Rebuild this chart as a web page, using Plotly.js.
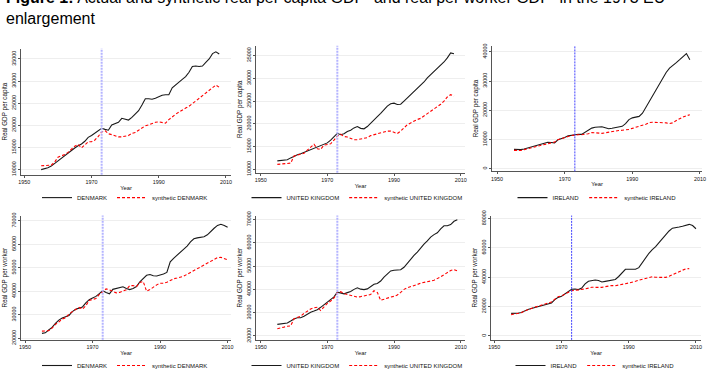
<!DOCTYPE html>
<html>
<head>
<meta charset="utf-8">
<script src="https://cdn.plot.ly/plotly-3.0.1.min.js"></script>
<style>
  html, body { margin: 0; padding: 0; background: #ffffff; }
  #chart { width: 722px; height: 380px; }
</style>
</head>
<body>
<div id="chart"></div>
<script>
// ---------- DATA ----------
const years = [1955,1956,1957,1958,1959,1960,1961,1962,1963,1964,1965,1966,1967,1968,1969,1970,
  1971,1972,1973,1974,1975,1976,1977,1978,1979,1980,1981,1982,1983,1984,1985,1986,1987,1988,1989,
  1990,1991,1992,1993,1994,1995,1996,1997,1998,1999,2000,2001,2002,2003,2004,2005,2006,2007,2008,2009,2010];
const treatYear = 1973;
const xTicks = [1950, 1970, 1990, 2010];

// Real GDP per capita
const denmarkPC = [10000,10200,10450,10800,11400,12100,12700,13300,13700,14300,
  14900,15400,15800,16400,17300,17700,18200,18700,19350,19100,
  18900,20100,20400,20700,21600,21400,21200,21800,22500,23300,
  24600,26000,26000,25900,26100,26400,26800,26900,26900,28500,
  29200,29800,30400,31000,32000,33300,33400,33300,33400,34200,
  35000,36200,36600,36100];
const synthDenmarkPC = [10880,10900,11050,11000,11700,12800,13100,13400,13900,14700,
  15300,15700,14900,15600,16300,16300,16700,17500,18500,18800,
  18100,17900,17600,17400,17400,17500,17700,18200,18400,18900,
  19400,19900,20100,20400,20700,20800,20600,20500,21300,22000,
  22500,23000,23500,23900,24300,24900,25500,26200,26800,27500,
  28000,28600,29100,28600];
const ukPC = [11850,11900,11950,12100,12500,12900,13200,13400,13700,14100,
  14450,14700,14900,15200,15500,15800,16400,17100,17900,17600,
  17800,18300,18600,19100,19400,19000,18900,19400,20200,20800,
  21600,22300,23100,23900,24400,24550,24250,24300,25000,25700,
  26300,27000,27700,28400,29200,30100,30800,31400,32100,32900,
  33600,34500,35600,35400];
const synthUkPC = [11070,11100,11250,11280,11350,12900,13100,13300,13500,14200,
  14800,15500,14500,14400,15300,15500,15600,16400,17300,17700,
  17200,17100,16800,16500,16500,16600,16800,16950,17400,17600,
  17800,18000,18300,18400,18400,18100,17850,18400,19200,19800,
  20200,20600,20950,21200,21700,22200,22700,23200,23800,24300,
  25000,25900,26400,26100];
const irelandPC = [6630,6530,6560,6750,7050,7400,7800,8100,8400,8700,
  9050,9000,8850,9900,10200,10700,11250,11450,11800,11820,
  11750,12400,13300,13900,14200,14360,14360,14030,13700,13880,
  14100,14300,14500,15400,16800,17400,17600,17900,19000,21000,
  23300,25000,26800,29200,31200,32900,34400,35200,36300,37300,
  38500,39400,37300];
const synthIrelandPC = [6300,6220,6250,6550,6850,7150,7450,7700,7900,8200,
  8500,8700,9150,9900,10350,10700,11050,11350,11580,11650,
  11650,11750,12000,12380,12250,12100,12100,12300,12550,12800,
  12900,13100,13150,13200,13450,13800,14250,14650,14900,15200,
  15800,15900,15910,15910,15850,15700,15450,15700,16500,17200,
  17700,18150,18450];

// Real GDP per worker
const denmarkPW = [22070,22300,23500,24600,26300,27700,28600,29200,29700,31300,
  32300,32800,33300,35000,36400,37100,37800,39000,40200,39500,
  38900,40800,41100,41300,41900,41200,40700,41200,42000,44000,
  45400,46800,47100,46600,46500,46800,47300,48000,52500,54000,
  55300,56800,57900,59200,61000,62300,62700,62900,63200,64000,
  65500,66800,68000,68500,68000,67200];
const synthDenmarkPW = [23030,23030,23200,24300,25900,26900,28200,28700,30300,31300,
  32100,33100,32400,33800,36100,36500,36900,38600,40000,41000,
  40600,40000,39300,39500,39900,40600,42400,42400,42000,43700,
  44100,40000,40700,41800,42700,43400,43400,43800,44700,45300,
  45600,45900,46400,47200,48000,48900,49600,50500,51400,52200,
  52900,53600,54300,54400,54000,53400];
const ukPW = [25000,25100,25300,25600,26400,27300,27800,27800,28500,29500,
  30200,30700,31300,32300,33400,34300,35300,36800,38800,38600,
  38100,38600,39100,40000,40700,40100,39900,40200,41400,42200,
  42500,43600,45300,46700,47900,48200,48200,48400,49500,51300,
  53100,54600,56000,57800,59400,60800,62400,63500,64300,66000,
  67300,67300,67800,69200,69900];
const synthUkPW = [23100,23300,23800,24200,24300,27400,28100,28500,29700,30700,
  31600,32100,32300,30900,32400,34000,35000,36300,38500,39000,
  38200,37800,37300,36800,36700,36900,37200,37400,37800,39400,
  38700,35300,35800,36500,36700,37000,37600,38700,40000,40700,
  41100,41800,42100,42700,43100,43400,43600,43900,44500,45400,
  46300,47300,48100,48500,47900];
const irelandPW = [15400,15430,15500,16000,17200,18000,18700,19300,19900,20600,
  21200,21700,22500,24800,26300,27000,28500,30500,31800,32000,
  31600,32600,35500,37300,37900,38100,37800,36800,37200,37600,
  37800,38500,40500,43300,45400,45400,45300,45400,46500,50000,
  53500,56300,58800,60800,63500,66300,68900,71500,73400,73600,
  74200,74700,75500,76000,75200,73000];
const synthIrelandPW = [14550,14990,15300,15800,17000,18000,18900,19600,20300,21100,
  21800,22500,23100,25000,26700,27300,28400,30000,30900,31070,
  31300,31700,32000,32600,33200,33100,33060,33100,33600,34000,
  34380,34200,34500,34800,35600,36100,36400,37200,38000,38700,
  39200,39900,40300,39950,39900,39900,39900,40600,41800,42700,
  43800,44800,45700,45840];

const countries = ['DENMARK', 'UNITED KINGDOM', 'IRELAND', 'DENMARK', 'UNITED KINGDOM', 'IRELAND'];
const actualSeries = [denmarkPC, ukPC, irelandPC, denmarkPW, ukPW, irelandPW];
const synthSeries = [synthDenmarkPC, synthUkPC, synthIrelandPC, synthDenmarkPW, synthUkPW, synthIrelandPW];
const yTitles = ['Real GDP per capita','Real GDP per capita','Real GDP per capita',
                 'Real GDP per worker','Real GDP per worker','Real GDP per worker'];
const titleText = '<b>Figure 1:</b> Actual and synthetic real per capita GDP  and real per worker GDP  in the 1973 EU<br>enlargement';

// ---------- LAYOUT GEOMETRY (pixels) ----------
const W = 722, H = 380;
const FONT = 'Liberation Sans, Arial, Helvetica, sans-serif';
const panels = [
  {l:21,  r:231, t:50,  b:180, xr:[1949.0,2011.5], yr:[8838,37346],  dt:5000,  leg:125, legY:203.5},
  {l:256, r:465, t:47,  b:178, xr:[1948.6,2011.3], yr:[9209,37200],  dt:5000,  leg:357, legY:203.5},
  {l:492, r:702, t:47,  b:176.5,xr:[1948.5,2010.6], yr:[-895,42090], dt:10000, leg:597, legY:203.5},
  {l:21,  r:231, t:222, b:350, xr:[1948.8,2011.0], yr:[19300,72190], dt:10000, leg:125, legY:376.5},
  {l:256, r:465, t:222, b:350, xr:[1948.6,2011.3], yr:[18333,71667], dt:10000, leg:357, legY:376.5},
  {l:491, r:701, t:222, b:350, xr:[1949.0,2011.5], yr:[-2645,81980], dt:20000, leg:595, legY:376.5}
];

const traces = [];
const layout = {
  width: W, height: H,
  margin: {l:0, r:0, t:0, b:0},
  paper_bgcolor: '#ffffff',
  plot_bgcolor: '#ffffff',
  showlegend: true,
  hovermode: false,
  font: {family: FONT, color: '#111111'},
  shapes: [],
  annotations: [{
    text: titleText, xref: 'paper', yref: 'paper',
    x: 4 / W, y: 1 - 30 / H, xanchor: 'left', yanchor: 'bottom',
    align: 'left', showarrow: false,
    font: {family: FONT, size: 16, color: '#000000'}
  }]
};

panels.forEach((p, i) => {
  const n = i + 1;
  const xa = n === 1 ? 'x' : 'x' + n;
  const ya = n === 1 ? 'y' : 'y' + n;
  const lg = n === 1 ? 'legend' : 'legend' + n;
  traces.push({
    x: years, y: actualSeries[i], xaxis: xa, yaxis: ya, legend: lg,
    type: 'scatter', mode: 'lines', name: countries[i],
    line: {color: '#1a1a1a', width: 1.1}
  });
  traces.push({
    x: years, y: synthSeries[i], xaxis: xa, yaxis: ya, legend: lg,
    type: 'scatter', mode: 'lines', name: 'synthetic ' + countries[i],
    line: {color: '#ff0000', width: 1.1, dash: '3px,2px'}
  });
  layout['xaxis' + (n === 1 ? '' : n)] = {
    domain: [p.l / W, p.r / W], range: p.xr, anchor: ya,
    tickvals: xTicks, ticks: 'outside', ticklen: 2, tickwidth: 1, tickcolor: '#555555',
    showline: true, linecolor: '#555555', linewidth: 1,
    showgrid: false, zeroline: false,
    tickfont: {family: FONT, size: 5.4, color: '#111111'},
    title: {text: 'Year', font: {family: FONT, size: 5.8, color: '#111111'}, standoff: 1}
  };
  layout['yaxis' + (n === 1 ? '' : n)] = {
    domain: [1 - p.b / H, 1 - p.t / H], range: p.yr, anchor: xa,
    dtick: p.dt, tick0: 0, tickformat: 'd', tickangle: -90,
    ticks: 'outside', ticklen: 2, tickwidth: 1, tickcolor: '#555555',
    showline: true, linecolor: '#555555', linewidth: 1,
    showgrid: true, gridcolor: '#eeeeee', gridwidth: 1, zeroline: false,
    tickfont: {family: FONT, size: 5.4, color: '#111111'},
    title: {text: yTitles[i], font: {family: FONT, size: 6.3, color: '#111111'}, standoff: 2}
  };
  layout[lg] = {
    orientation: 'h', x: p.leg / W, xanchor: 'center', y: 1 - p.legY / H, yanchor: 'middle',
    font: {family: FONT, size: 6, color: '#111111'}, bgcolor: 'rgba(0,0,0,0)',
    itemwidth: 30, tracegroupgap: 0, borderwidth: 0
  };
  const thin = (n === 3 || n === 6);
  layout.shapes.push({
    type: 'line', xref: xa, yref: ya + ' domain',
    x0: treatYear, x1: treatYear, y0: 0, y1: 1,
    line: thin ? {color: '#4040ff', width: 1, dash: '2px,1px'}
               : {color: '#b4b4ff', width: 2, dash: '2px,1px'}
  });
});

Plotly.newPlot('chart', traces, layout, {staticPlot: true, displayModeBar: false});
</script>
</body>
</html>
